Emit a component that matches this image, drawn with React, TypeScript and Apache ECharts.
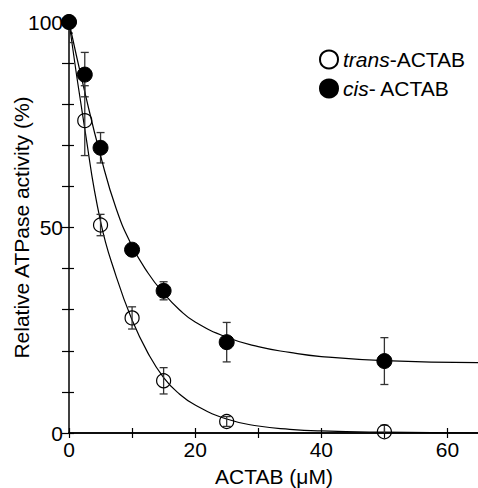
import React, { useEffect, useRef } from "react";
import * as echarts from "echarts";

const xConc = [0, 2.5, 5, 10, 15, 25, 50];
const transVals = [100, 76, 50.6, 28, 12.7, 2.8, 0.3];
const transErr = [5, 8.5, 2.6, 2.7, 3.2, 1.2, 1.6];
const cisVals = [100, 87.2, 69.4, 44.6, 34.6, 22.1, 17.5];
const cisErr = [2.7, 5.4, 3.7, 0, 2.2, 4.8, 5.7];

const curveX = [0, 2.5, 5, 7.5, 10, 12.5, 15, 17.5, 20, 25, 30, 35, 40, 50, 65];
const transCurve = [100, 74, 51.5, 38, 27.5, 19.5, 13.5, 9.5, 6.8, 3.4, 1.7, 0.9, 0.5, 0.2, 0];
const cisCurve = [100, 83, 67.5, 54.5, 45.5, 39, 34, 30, 27, 23.3, 21, 19.6, 18.6, 17.6, 17.1];

const yLabels = [0, 50, 100];
const xLabels = [0, 20, 40, 60];

const FONT = "Liberation Sans, Arial, sans-serif";
const FS = 21;

export default function App() {
  const ref = useRef<HTMLDivElement>(null);
  useEffect(() => {
    if (!ref.current) return;
    const chart = echarts.init(ref.current, undefined, { renderer: "svg" });
    const errRender = (params: any, api: any) => {
      const x = api.value(0);
      const y = api.value(1);
      const e = api.value(2);
      if (!e) return null;
      const top = api.coord([x, y + e]);
      const bot = api.coord([x, y - e]);
      const w = 4;
      const style = { stroke: "#333", lineWidth: 1.3 };
      return {
        type: "group",
        children: [
          { type: "line", shape: { x1: top[0], y1: top[1], x2: bot[0], y2: bot[1] }, style },
          { type: "line", shape: { x1: top[0] - w, y1: top[1], x2: top[0] + w, y2: top[1] }, style },
          { type: "line", shape: { x1: bot[0] - w, y1: bot[1], x2: bot[0] + w, y2: bot[1] }, style },
        ],
      };
    };
    const axisCommon = {
      axisLine: { lineStyle: { color: "#000", width: 1.5 } },
      axisTick: { inside: true, length: 5, lineStyle: { color: "#000", width: 1.2 } },
      splitLine: { show: false },
    };
    chart.setOption({
      animation: false,
      textStyle: { fontFamily: FONT },
      grid: { left: 69, right: -1, top: 22, bottom: 55, containLabel: false, outerBoundsMode: "none" },
      legend: {
        orient: "vertical",
        left: 314,
        top: 44,
        itemGap: 8,
        itemWidth: 18,
        itemHeight: 18,
        icon: "circle",
        data: ["trans", "cis"],
        formatter: (name: string) => (name === "trans" ? "{i|trans}-ACTAB" : "{i|cis}- ACTAB"),
        textStyle: {
          fontSize: FS,
          color: "#000",
          fontFamily: FONT,
          rich: { i: { fontStyle: "italic", fontSize: FS, fontFamily: FONT, color: "#000" } },
        },
      },
      xAxis: [
        {
          type: "value",
          min: 0,
          max: 65,
          interval: 10,
          position: "bottom",
          ...axisCommon,
          axisLabel: {
            color: "#000",
            fontSize: FS,
            margin: 6,
            fontFamily: FONT,
            formatter: (v: number) => (xLabels.includes(v) ? String(v) : ""),
          },
          name: "ACTAB (μM)",
          nameLocation: "middle",
          nameGap: 33,
          nameMoveOverlap: false,
          nameTextStyle: { fontSize: FS, color: "#000", fontFamily: FONT },
        },
        {
          type: "value",
          min: 0,
          max: 65,
          interval: 10,
          position: "top",
          ...axisCommon,
          axisLabel: { show: false },
        },
      ],
      yAxis: [
        {
          type: "value",
          min: 0,
          max: 100,
          interval: 10,
          position: "left",
          ...axisCommon,
          axisLabel: {
            color: "#000",
            fontSize: FS,
            margin: 6,
            fontFamily: FONT,
            formatter: (v: number) => (yLabels.includes(v) ? String(v) : ""),
          },
          name: "Relative ATPase activity (%)",
          nameLocation: "middle",
          nameGap: 37,
          nameMoveOverlap: false,
          nameTextStyle: { fontSize: FS, color: "#000", fontFamily: FONT },
        },
        {
          type: "value",
          min: 0,
          max: 100,
          interval: 10,
          position: "right",
          ...axisCommon,
          axisLine: { show: false },
          axisTick: { show: true, inside: true, length: 7, lineStyle: { color: "#000", width: 1.2 } },
          axisLabel: { show: false },
        },
      ],
      series: [
        {
          type: "line",
          data: curveX.map((x, i) => [x, transCurve[i]]),
          smooth: true,
          showSymbol: false,
          lineStyle: { color: "#000", width: 1.2 },
          silent: true,
        },
        {
          type: "line",
          data: curveX.map((x, i) => [x, cisCurve[i]]),
          smooth: true,
          showSymbol: false,
          lineStyle: { color: "#000", width: 1.2 },
          silent: true,
        },
        {
          type: "custom",
          renderItem: errRender,
          clip: true,
          data: xConc.map((x, i) => [x, cisVals[i], cisErr[i]]),
          z: 3,
        },
        {
          type: "custom",
          renderItem: errRender,
          clip: true,
          data: xConc.map((x, i) => [x, transVals[i], transErr[i]]),
          z: 4,
        },
        {
          name: "trans",
          type: "scatter",
          data: xConc.map((x, i) => [x, transVals[i]]),
          symbol: "circle",
          symbolSize: 14,
          itemStyle: { color: "rgba(255,255,255,0)", borderColor: "#000", borderWidth: 1.2, opacity: 1 },
          z: 5,
        },
        {
          name: "cis",
          type: "scatter",
          data: xConc.map((x, i) => [x, cisVals[i]]),
          symbol: "circle",
          symbolSize: 15,
          itemStyle: { color: "#000", borderColor: "#000", borderWidth: 1, opacity: 1 },
          z: 6,
        },
      ],
    });
    return () => chart.dispose();
  }, []);
  return <div ref={ref} style={{ width: 478, height: 488, position: "absolute", left: 0, top: 0 }} />;
}
